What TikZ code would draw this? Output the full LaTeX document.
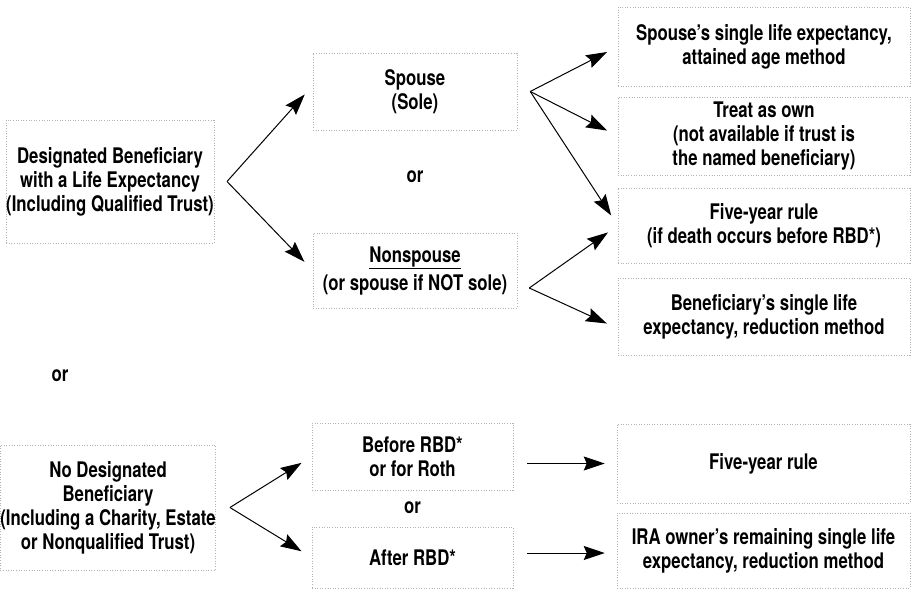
\documentclass[tikz,border=0pt]{standalone}
\usepackage{fontspec}
\setmainfont{TeX Gyre Heros}[FakeStretch=0.78]
\usetikzlibrary{arrows.meta,calc}
\begin{document}
\begin{tikzpicture}[x=1pt,y=-1pt,>={Stealth[length=21pt,width=14pt,inset=3pt]},
  box/.style={draw=black!30,dash pattern=on 1pt off 1.6pt,line width=0.5pt,
    align=center,inner sep=0pt,font=\fontsize{21.5}{24}\selectfont\bfseries},
  lbl/.style={align=center,inner sep=0pt,font=\fontsize{21.5}{24}\selectfont\bfseries},
  arr/.style={line width=1pt,->,shorten >=12pt}]
\useasboundingbox (0,0) rectangle (918,590);
% left column
\node[box,minimum width=200pt,minimum height=123pt] (dbl) at (110,181.5)
  {Designated Beneficiary\\with a Life Expectancy\\(Including Qualified Trust)};
\node[lbl] (or1) at (60,376) {or};
\node[box,minimum width=202pt,minimum height=125pt] (ndb) at (108,507.5)
  {No Designated\\Beneficiary\\(Including a Charity, Estate\\or Nonqualified Trust)};
% middle column
\node[box,minimum width=204pt,minimum height=77pt] (sp) at (415,91.5)
  {Spouse\\(Sole)};
\node[lbl] (or2) at (415,177) {or};
\node[box,minimum width=204pt,minimum height=75pt] (ns) at (415,270.5)
  {\underline{Nonspouse}\\[4pt](or spouse if NOT sole)};
\node[box,minimum width=201pt,minimum height=67pt] (bef) at (412.5,456.5)
  {Before RBD*\\or for Roth};
\node[lbl] (or3) at (412.5,508) {or};
\node[box,minimum width=201pt,minimum height=61pt] (aft) at (412.5,557.5)
  {After RBD*};
% right column
\node[box,minimum width=292pt,minimum height=79pt] (ra) at (764,46.5)
  {Spouse’s single life expectancy,\\attained age method};
\node[box,minimum width=292pt,minimum height=78pt] (rb) at (764,136)
  {Treat as own\\(not available if trust is\\the named beneficiary)};
\node[box,minimum width=292pt,minimum height=75pt] (rc) at (764,225.5)
  {Five-year rule\\(if death occurs before RBD*)};
\node[box,minimum width=292pt,minimum height=77pt] (rd) at (764,316.5)
  {Beneficiary’s single life\\expectancy, reduction method};
\node[box,minimum width=293pt,minimum height=79pt] (re) at (763.5,463.5)
  {Five-year rule};
\node[box,minimum width=293pt,minimum height=75pt] (rf) at (763.5,550.5)
  {IRA owner’s remaining single life\\expectancy, reduction method};
% apex coordinates
\coordinate (a1) at ([xshift=13pt]dbl.east);
\coordinate (a2) at ([xshift=13pt]sp.east);
\coordinate (a3) at ($(ns.east)+(12,17.5)$);
\coordinate (a4) at ([xshift=14pt]ndb.east);
% arrows
\draw[arr] (a1) -- ([yshift=6pt]sp.west);
\draw[arr] (a1) -- (ns.west);
\draw[arr] (a2) -- (ra.west);
\draw[arr] (a2) -- (rb.west);
\draw[arr] (a2) -- (rc.west);
\draw[arr] (a3) -- (rc.west);
\draw[arr] (a3) -- ([yshift=-12pt]rd.west);
\draw[arr] (a4) -- (bef.west);
\draw[arr] (a4) -- (aft.west);
\draw[arr,shorten <=14pt] (bef.east |- re.west) -- (re.west);
\draw[arr,shorten <=14pt] ($(aft.east |- rf.west)+(0,2.5)$) -- ($(rf.west)+(0,2.5)$);
\end{tikzpicture}
\end{document}
